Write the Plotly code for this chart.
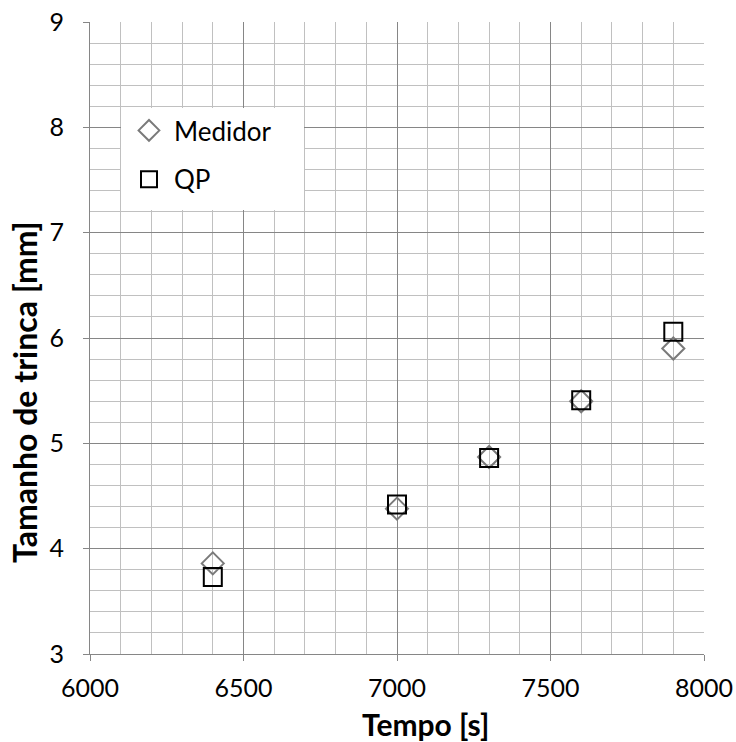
import plotly.graph_objects as go

# Crack size measurements over time
tempo = [6400, 7000, 7300, 7600, 7900]
medidor = [3.86, 4.38, 4.87, 5.40, 5.90]
qp = [3.73, 4.42, 4.86, 5.41, 6.06]

x_ticks = [6000, 6500, 7000, 7500, 8000]
y_ticks = [3, 4, 5, 6, 7, 8, 9]

FONT = "Lato"
L, R, T, B = 90, 32, 22, 88
W, H = 736, 742
PW, PH = W - L - R, H - T - B


def px_x(p):
    return (p - L) / PW


def px_y(p):
    return (H - B - p) / PH


fig = go.Figure()

fig.add_trace(go.Scatter(
    x=tempo, y=medidor, mode="markers", name="Medidor",
    legendgroup="a",
    marker=dict(symbol="diamond-open", size=17, color="#7a7a7a",
                line=dict(width=2, color="#7a7a7a")),
))
fig.add_trace(go.Scatter(
    x=tempo, y=qp, mode="markers", name="QP",
    legendgroup="b",
    marker=dict(symbol="square-open", size=18, color="#000000",
                line=dict(width=2, color="#000000")),
))

# white panel behind the legend
fig.add_shape(type="rect", xref="paper", yref="paper",
              x0=px_x(121), x1=px_x(304), y0=px_y(210), y1=px_y(108),
              fillcolor="white", line=dict(width=0), layer="above")

axis_common = dict(
    showline=True, linecolor="#868686", linewidth=1,
    ticks="outside", ticklen=6, tickcolor="#868686", tickwidth=1,
    showgrid=True, gridcolor="#868686", gridwidth=1,
    zeroline=False, automargin=False,
    tickfont=dict(family=FONT, size=25, color="#000000"),
    minor=dict(showgrid=True, gridcolor="#c0c0c0", gridwidth=1, ticks=""),
)

fig.update_xaxes(
    range=[6000, 8000], tickvals=x_ticks, ticktext=[str(v) for v in x_ticks],
    minor_dtick=100, ticklabelstandoff=6,
    **axis_common,
)
fig.update_yaxes(
    range=[3, 9], tickvals=y_ticks, ticktext=[str(v) for v in y_ticks],
    minor_dtick=0.2, ticklabelstandoff=14,
    **axis_common,
)

# axis titles
fig.add_annotation(text="<b>Tempo [s]</b>", xref="paper", yref="paper",
                   x=px_x(425), y=px_y(724), xanchor="center", yanchor="middle",
                   showarrow=False, font=dict(family=FONT, size=30, color="#000000"))
fig.add_annotation(text="<b>Tamanho de trinca [mm]</b>", xref="paper", yref="paper",
                   x=px_x(24), y=px_y(392), xanchor="center", yanchor="middle",
                   textangle=-90, showarrow=False,
                   font=dict(family=FONT, size=32, color="#000000"))

fig.update_layout(
    width=W, height=H,
    margin=dict(l=L, r=R, t=T, b=B, autoexpand=False),
    paper_bgcolor="white", plot_bgcolor="white",
    showlegend=True,
    legend=dict(
        x=px_x(124), y=px_y(107), xanchor="left", yanchor="top",
        bgcolor="rgba(0,0,0,0)", font=dict(family=FONT, size=26, color="#000000"),
        traceorder="grouped", tracegroupgap=12, itemwidth=40,
    ),
)

fig.write_html("out.html")
